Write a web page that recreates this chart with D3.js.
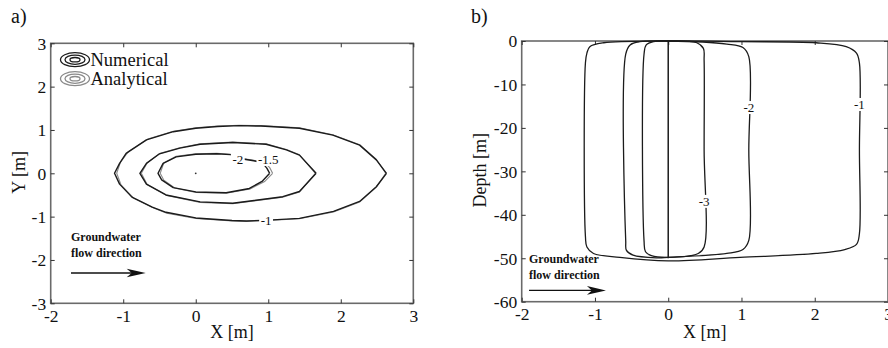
<!DOCTYPE html>
<html><head><meta charset="utf-8">
<script src="https://cdn.jsdelivr.net/npm/d3@7"></script>
<style>
html,body{margin:0;padding:0;background:#fff;}
svg{display:block;font-family:"Liberation Serif","Times New Roman",serif;}
</style></head><body>
<svg id="chart" width="888" height="348"></svg>
<script>
// ---- tick values ----
const xTicks = [-2, -1, 0, 1, 2, 3];
const yTicksPlan = [-3, -2, -1, 0, 1, 2, 3];
const yTicksSection = [-60, -50, -40, -30, -20, -10, 0];

// ---- plan view (X, Y in m): numerical contours ----
const planNumOuter = [[2.63,0],[2.49,0.31],[2.26,0.65],[1.89,0.88],[1.43,1.04],[0.9,1.09],[0.6,1.1],[0.3,1.08],[0,1.04],[-0.31,0.96],[-0.68,0.77],[-0.96,0.46],[-1.05,0.23],[-1.12,0],[-1.05,-0.25],[-0.88,-0.55],[-0.6,-0.78],[-0.41,-0.9],[0,-1.03],[0.5,-1.09],[0.7,-1.1],[1.0,-1.08],[1.43,-1.04],[1.9,-0.88],[2.26,-0.65],[2.49,-0.31],[2.63,0]];
const planNumMiddle = [[1.66,0],[1.43,0.42],[1.25,0.54],[0.97,0.67],[0.51,0.71],[0.06,0.67],[-0.22,0.58],[-0.5,0.45],[-0.68,0.23],[-0.77,0],[-0.68,-0.25],[-0.41,-0.5],[0.06,-0.66],[0.51,-0.69],[1.2,-0.54],[1.43,-0.42],[1.66,0]];
const planNumInner = [[1.02,0],[0.98,0.12],[0.92,0.24],[0.8,0.29],[0.65,0.33],[0.48,0.43],[0.29,0.45],[0,0.44],[-0.27,0.38],[-0.45,0.23],[-0.52,0],[-0.47,-0.15],[-0.31,-0.33],[0,-0.43],[0.42,-0.45],[0.74,-0.35],[0.92,-0.18],[1.02,0]];

// ---- plan view: analytical contours ----
const planAnaOuter = [[2.62,0],[2.49,0.32],[2.26,0.66],[1.89,0.89],[1.43,1.05],[0.9,1.1],[0.6,1.11],[0.3,1.09],[0,1.05],[-0.31,0.97],[-0.66,0.79],[-0.93,0.5],[-1.04,0.25],[-1.09,0],[-1.03,-0.27],[-0.86,-0.57],[-0.58,-0.8],[-0.4,-0.92],[0,-1.04],[0.5,-1.1],[0.7,-1.11],[1.0,-1.09],[1.43,-1.05],[1.9,-0.89],[2.26,-0.66],[2.49,-0.32],[2.62,0]];
const planAnaMiddle = [[1.65,0],[1.43,0.43],[1.25,0.55],[0.97,0.68],[0.51,0.72],[0.06,0.68],[-0.22,0.59],[-0.49,0.46],[-0.67,0.24],[-0.75,0],[-0.67,-0.26],[-0.4,-0.51],[0.06,-0.67],[0.51,-0.7],[1.2,-0.55],[1.43,-0.43],[1.65,0]];
const planAnaInner = [[1.06,0],[1.02,0.13],[0.95,0.25],[0.8,0.3],[0.65,0.34],[0.48,0.44],[0.29,0.46],[0,0.45],[-0.27,0.39],[-0.44,0.24],[-0.49,0],[-0.44,-0.16],[-0.29,-0.34],[0,-0.44],[0.42,-0.46],[0.75,-0.36],[0.95,-0.19],[1.06,0]];

// ---- cross-section (X in m, depth in m) ----
const sectionLevel1 = [[0,0],[0.98,-0.15],[2.02,-0.4],[2.43,-1.3],[2.57,-2.8],[2.61,-5.1],[2.61,-25],[2.61,-44.3],[2.57,-46.8],[2.41,-48],[2.02,-48.9],[0.98,-49.8],[0,-50.6],[-0.66,-49.8],[-1.02,-48.9],[-1.11,-47.4],[-1.13,-45],[-1.13,-5],[-1.11,-2.8],[-1.07,-1.3],[-0.88,-0.4]];
const sectionLevel2 = [[0,0],[0.8,-0.7],[1.02,-1.5],[1.10,-3.6],[1.10,-25],[1.10,-45.9],[1.02,-48],[0.8,-48.9],[0,-49.8],[-0.15,-49.9],[-0.48,-49.3],[-0.57,-48.2],[-0.58,-46],[-0.58,-3],[-0.52,-0.9],[-0.39,-0.15]];
const sectionLevel3 = [[0,0],[0.39,-0.4],[0.48,-1.7],[0.49,-4.5],[0.49,-25],[0.49,-47.4],[0.41,-48.9],[0,-49.8],[-0.23,-49.4],[-0.31,-48.5],[-0.33,-46],[-0.33,-3],[-0.3,-0.9],[-0.2,-0.15]];
const sourceLine = [[0,0],[0,-50]];

// ---- contour labels ----
const planLabels = [
  {text:"-2", x:0.58, y:0.33},
  {text:"-1.5", x:1.0, y:0.32},
  {text:"-1", x:0.97, y:-1.08}
];
const sectionLabels = [
  {text:"-2", x:1.10, y:-15.3},
  {text:"-1", x:2.61, y:-14.6},
  {text:"-3", x:0.49, y:-36.9}
];

const svg = d3.select("#chart");
const SERIF = "Liberation Serif, Times New Roman, serif";
const INK = "#1b1b1b", GREY = "#8a8a8a", FRAME = "#6a6a6a";

function panel(x, y, yTicks, opts) {
  const g = svg.append("g");
  const [x0, x1] = x.range(), [y0, y1] = y.range();
  // frame
  g.append("rect").attr("x", x0).attr("y", y1).attr("width", x1 - x0).attr("height", y0 - y1)
    .attr("fill", "none").attr("stroke", FRAME).attr("stroke-width", 1.6);
  const fmt = d => String(d);
  const ax = (gen, tx, ty, labels) => {
    const a = g.append("g").attr("transform", `translate(${tx},${ty})`)
      .call(gen.tickSizeInner(-4).tickSizeOuter(0).tickPadding(4).tickFormat(labels ? fmt : ""));
    a.attr("font-family", SERIF);
    a.select(".domain").remove();
    a.selectAll(".tick line").attr("stroke", "#333").attr("stroke-width", 1);
    a.selectAll("text").style("font-family", SERIF).attr("font-size", 17.5).attr("fill", "#111");
    return a;
  };
  const bx = ax(d3.axisBottom(x).tickValues(xTicks), 0, y0, true);
  bx.selectAll("text").attr("dy", null).attr("y", 18.5).attr("dominant-baseline", "auto");
  ax(d3.axisTop(x).tickValues(xTicks), 0, y1, false);
  const ly = ax(d3.axisLeft(y).tickValues(yTicks), x0, 0, true);
  ly.selectAll("text").attr("x", -4.5).attr("dy", "0.34em");
  ax(d3.axisRight(y).tickValues(yTicks), x1, 0, false);
  // axis titles
  g.append("text").attr("x", (x0 + x1) / 2).attr("y", 338).attr("text-anchor", "middle")
    .attr("font-size", 18).attr("fill", "#111").text("X [m]");
  g.append("text").attr("transform", `translate(${opts.ylabX},${(y0 + y1) / 2 - 1}) rotate(-90)`)
    .attr("text-anchor", "middle").attr("font-size", 18).attr("fill", "#111").text(opts.ylab);
  g.append("text").attr("x", opts.tagX).attr("y", 23).attr("font-size", 20).attr("fill", "#111").text(opts.tag);
  return g;
}

function flowArrow(g, x, y, a) {
  g.append("text").attr("x", x(a.x0)).attr("y", y(a.t1)).attr("font-size", 12).attr("font-weight", "bold")
    .attr("fill", "#111").text("Groundwater");
  g.append("text").attr("x", x(a.x0)).attr("y", y(a.t2)).attr("font-size", 12).attr("font-weight", "bold")
    .attr("fill", "#111").text("flow direction");
  const px0 = x(a.x0), px1 = x(a.x1), py = y(a.ya);
  g.append("line").attr("x1", px0).attr("x2", px1 - 10).attr("y1", py).attr("y2", py)
    .attr("stroke", "#111").attr("stroke-width", 1.4);
  g.append("path").attr("d", `M${px1},${py} L${px1 - 19},${py - 4.3} L${px1 - 14},${py} L${px1 - 19},${py + 4.3} Z`)
    .attr("fill", "#111");
}

function knockLabels(g, x, y, labels) {
  labels.forEach(l => {
    const t = g.append("text").attr("x", x(l.x)).attr("y", y(l.y)).attr("text-anchor", "middle")
      .attr("dy", "0.35em").attr("font-size", 13).attr("fill", "#111").text(l.text);
    const b = t.node().getBBox();
    g.insert("rect", () => t.node()).attr("x", b.x - 1.5).attr("y", b.y + 1).attr("width", b.width + 3)
      .attr("height", b.height - 2).attr("fill", "#fff");
  });
}

// ================= a) plan view =================
const xA = d3.scaleLinear([-2, 3], [50.7, 413.3]);
const yA = d3.scaleLinear([-3, 3], [303.3, 43.3]);
const gA = panel(xA, yA, yTicksPlan, {ylab: "Y [m]", ylabX: 25, tag: "a)", tagX: 11});
const lineA = d3.line().x(d => xA(d[0])).y(d => yA(d[1]));
[planAnaOuter, planAnaMiddle, planAnaInner].forEach(c =>
  gA.append("path").attr("d", lineA(c)).attr("fill", "none").attr("stroke", GREY).attr("stroke-width", 1.1));
[planNumOuter, planNumMiddle, planNumInner].forEach(c =>
  gA.append("path").attr("d", lineA(c)).attr("fill", "none").attr("stroke", INK).attr("stroke-width", 1.4)
    .attr("stroke-linejoin", "round"));
gA.append("circle").attr("cx", xA(0)).attr("cy", yA(0)).attr("r", 0.9).attr("fill", "#333");
knockLabels(gA, xA, yA, planLabels);

// legend
const legend = [{name: "Numerical", color: INK}, {name: "Analytical", color: GREY}];
legend.forEach((d, i) => {
  const cy = 59.7 + i * 19, cx = 75;
  [[14.5, 7], [10, 4.6], [5, 2.2]].forEach(([rx, ry]) =>
    gA.append("ellipse").attr("cx", cx).attr("cy", cy).attr("rx", rx).attr("ry", ry)
      .attr("fill", "none").attr("stroke", d.color).attr("stroke-width", 1.3));
  gA.append("text").attr("x", 90.5).attr("y", cy + 6.5).attr("font-size", 18.5).attr("fill", "#111").text(d.name);
});
flowArrow(gA, xA, yA, {x0: -1.72, x1: -0.69, ya: -2.3, t1: -1.56, t2: -1.93});

// ================= b) cross-section =================
const xB = d3.scaleLinear([-2, 3], [521.7, 888]);
const yB = d3.scaleLinear([-60, 0], [301.7, 41]);
const gB = panel(xB, yB, yTicksSection, {ylab: "Depth [m]", ylabX: 486, tag: "b)", tagX: 471});
const lineB = d3.line().x(d => xB(d[0])).y(d => yB(d[1])).curve(d3.curveCatmullRomClosed.alpha(0.5));
[sectionLevel1, sectionLevel2, sectionLevel3].forEach(c =>
  gB.append("path").attr("d", lineB(c)).attr("fill", "none").attr("stroke", INK).attr("stroke-width", 1.3));
gB.append("path").attr("d", d3.line().x(d => xB(d[0])).y(d => yB(d[1]))(sourceLine))
  .attr("fill", "none").attr("stroke", INK).attr("stroke-width", 1.5);
knockLabels(gB, xB, yB, sectionLabels);
flowArrow(gB, xB, yB, {x0: -1.9, x1: -0.85, ya: -57.4, t1: -51.1, t2: -54.8});
</script>
</body></html>
